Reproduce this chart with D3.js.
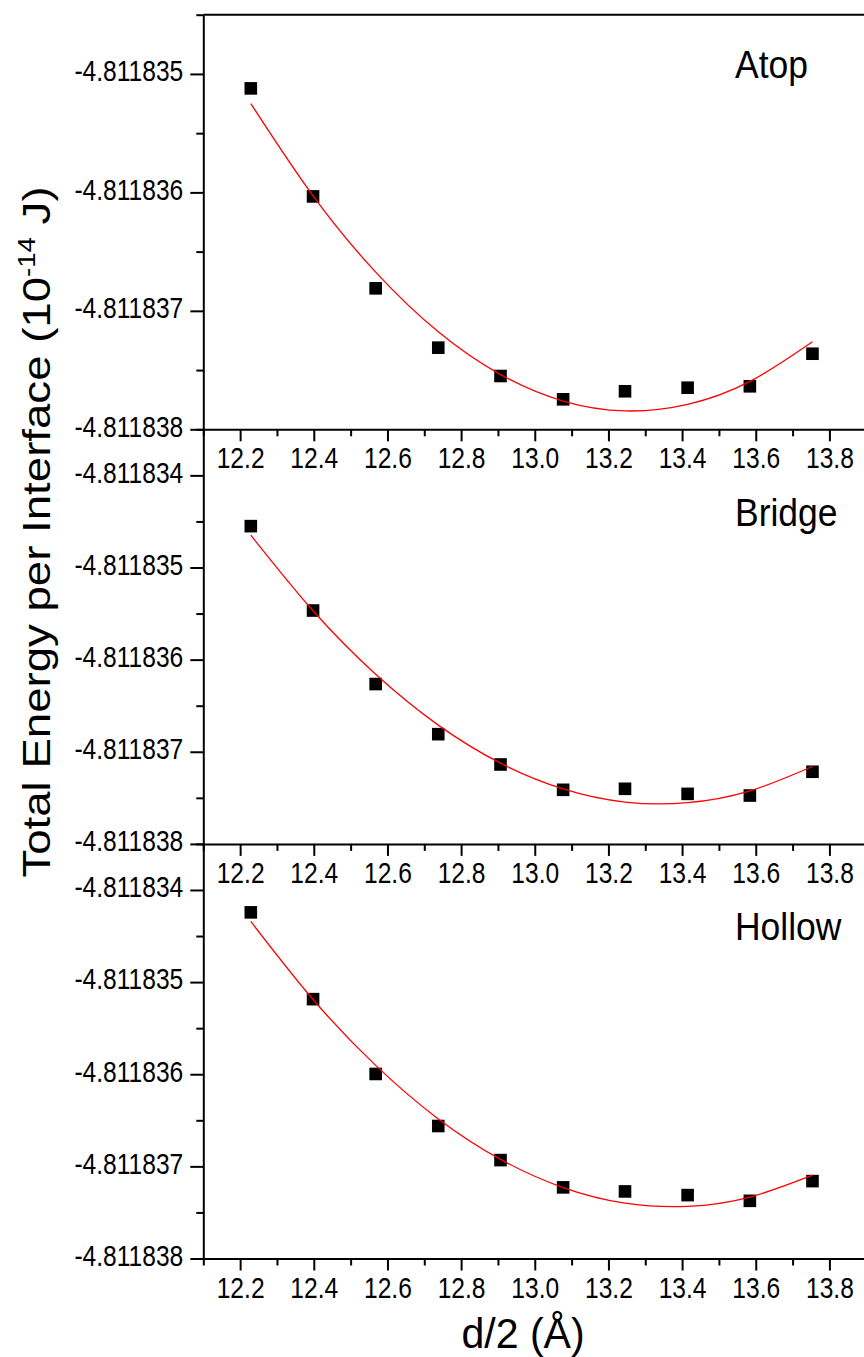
<!DOCTYPE html>
<html>
<head>
<meta charset="utf-8">
<script src="https://cdn.jsdelivr.net/npm/d3@7"></script>
<style>
  html, body { margin: 0; padding: 0; background: #fff; }
  svg { display: block; font-family: "Liberation Sans", Arial, sans-serif; }
</style>
</head>
<body>
<div id="chart"></div>
<script>
// d/2 values (Å), shared by the three panels
const dHalf = [12.229, 12.398, 12.568, 12.738, 12.907, 13.077, 13.245, 13.415, 13.584, 13.754];

// total energy per interface (10^-14 J)
const atopE   = [-4.811835122, -4.811836034, -4.81183681, -4.811837311, -4.81183755, -4.811837747, -4.811837679, -4.811837649, -4.811837637, -4.811837362];
const bridgeE = [-4.811834551, -4.811835467, -4.811836265, -4.811836809, -4.811837138, -4.811837413, -4.811837402, -4.811837457, -4.811837475, -4.811837217];
const hollowE = [-4.811834243, -4.811835185, -4.811835997, -4.811836562, -4.811836932, -4.811837228, -4.811837272, -4.811837312, -4.811837374, -4.81183716];

// red fit curves, read at the same d/2 values
const atopFit   = [-4.811835251, -4.81183603, -4.811836673, -4.811837177, -4.811837538, -4.811837762, -4.811837845, -4.81183779, -4.811837596, -4.811837261];
const bridgeFit = [-4.811834649, -4.81183547, -4.811836159, -4.811836711, -4.811837124, -4.811837403, -4.811837546, -4.811837553, -4.811837425, -4.81183716];
const hollowFit = [-4.811834342, -4.811835189, -4.811835904, -4.811836485, -4.811836924, -4.81183723, -4.811837399, -4.811837434, -4.811837333, -4.811837095];

const panelNames = ["Atop", "Bridge", "Hollow"];

// ticks
const xTicks = [12.2, 12.4, 12.6, 12.8, 13.0, 13.2, 13.4, 13.6, 13.8];
const xMinor = [12.1, 12.3, 12.5, 12.7, 12.9, 13.1, 13.3, 13.5, 13.7, 13.9];
const yTicksTop = [-4.811838, -4.811837, -4.811836, -4.811835];
const yTicksLow = [-4.811838, -4.811837, -4.811836, -4.811835, -4.811834];
const yMinorTop = [-4.8118375, -4.8118365, -4.8118355, -4.8118345];
const yMinorLow = [-4.8118375, -4.8118365, -4.8118355, -4.8118345, -4.8118335];

const width = 864, height = 1357;
const left = 203.3;
const top0 = 14.7;
const panelH = 414.6;

const svg = d3.select("#chart").append("svg")
    .attr("width", width)
    .attr("height", height)
    .attr("viewBox", `0 0 ${width} ${height}`);

const x = d3.scaleLinear().domain([12.1, 13.9]).range([left, left + 1.8 * 368.3]);

const panels = [
    { name: panelNames[0], e: atopE, fit: atopFit, dom: [-4.811838, -4.8118345], ticks: yTicksTop, minor: yMinorTop, labelY: 63.6 },
    { name: panelNames[1], e: bridgeE, fit: bridgeFit, dom: [-4.811838, -4.8118335], ticks: yTicksLow, minor: yMinorLow, labelY: 96.7 },
    { name: panelNames[2], e: hollowE, fit: hollowFit, dom: [-4.811838, -4.8118335], ticks: yTicksLow, minor: yMinorLow, labelY: 96.3 }
];

const tickFont = 24.6, tickStretch = 1.18;

panels.forEach((p, i) => {
    const pTop = top0 + i * panelH;
    const pBot = pTop + panelH;
    const y = d3.scaleLinear().domain(p.dom).range([pBot, pTop]);
    const g = svg.append("g");

    // top frame line only on the first panel
    if (i === 0) {
        g.append("line")
            .attr("x1", left).attr("x2", width + 5)
            .attr("y1", pTop).attr("y2", pTop)
            .attr("stroke", "#000").attr("stroke-width", 2);
    }

    // y axis: minor then major
    g.append("g")
        .attr("transform", `translate(${left},0)`)
        .call(d3.axisLeft(y).tickValues(p.minor).tickSize(7).tickFormat(""))
        .call(a => a.select(".domain").remove())
        .call(a => a.selectAll("line").attr("stroke-width", 2));

    const yAxis = g.append("g")
        .attr("transform", `translate(${left},0)`)
        .call(d3.axisLeft(y).tickValues(p.ticks).tickSize(13).tickSizeOuter(0)
            .tickFormat(d => d.toFixed(6)));
    yAxis.select(".domain").attr("stroke-width", 2);
    yAxis.selectAll("line").attr("stroke-width", 2);
    yAxis.selectAll("text")
        .attr("x", 0).attr("dy", null).attr("y", 0)
        .attr("transform", `translate(-20,6.8) scale(1,${tickStretch})`)
        .attr("font-size", tickFont)
        .attr("font-family", "Liberation Sans, Arial, sans-serif")
        .attr("fill", "#000");

    // x axis at the bottom of the panel
    g.append("g")
        .attr("transform", `translate(0,${pBot})`)
        .call(d3.axisBottom(x).tickValues(xMinor).tickSize(7).tickFormat(""))
        .call(a => a.select(".domain").remove())
        .call(a => a.selectAll("line").attr("stroke-width", 2));

    const xAxis = g.append("g")
        .attr("transform", `translate(0,${pBot})`)
        .call(d3.axisBottom(x).tickValues(xTicks).tickSize(12).tickSizeOuter(0)
            .tickFormat(d3.format(".1f")));
    xAxis.select(".domain").attr("stroke-width", 2);
    xAxis.selectAll("line").attr("stroke-width", 2);
    xAxis.selectAll("text")
        .attr("y", 0).attr("dy", null)
        .attr("transform", `translate(0,39) scale(1,${tickStretch})`)
        .attr("font-size", tickFont)
        .attr("font-family", "Liberation Sans, Arial, sans-serif")
        .attr("fill", "#000");

    // data squares
    const sq = 12.6;
    g.selectAll(".pt")
        .data(dHalf.map((d, k) => [d, p.e[k]]))
        .join("rect")
        .attr("class", "pt")
        .attr("x", d => x(d[0]) - sq / 2)
        .attr("y", d => y(d[1]) - sq / 2)
        .attr("width", sq)
        .attr("height", sq)
        .attr("fill", "#000");

    // fitted curve
    const line = d3.line()
        .x(d => x(d[0]))
        .y(d => y(d[1]))
        .curve(d3.curveNatural);
    g.append("path")
        .attr("d", line(dHalf.map((d, k) => [d, p.fit[k]])))
        .attr("fill", "none")
        .attr("stroke", "#ff0000")
        .attr("stroke-width", 1.3);

    // panel label
    g.append("text")
        .attr("transform", `translate(735,${pTop + p.labelY}) scale(1,1.1)`)
        .attr("font-size", 35.5)
        .attr("fill", "#000")
        .text(p.name);
});

// axis titles
const yTitle = svg.append("text")
    .attr("transform", "translate(50,532) rotate(-90) scale(1.2,1)")
    .attr("text-anchor", "middle")
    .attr("font-size", 38)
    .attr("fill", "#000");
yTitle.append("tspan").text("Total Energy per Interface (10");
yTitle.append("tspan").attr("font-size", 23).attr("dy", -15).text("-14");
yTitle.append("tspan").attr("dy", 15).text(" J)");

svg.append("text")
    .attr("transform", "translate(523,1348) scale(1.08,1.1)")
    .attr("text-anchor", "middle")
    .attr("font-size", 38)
    .attr("fill", "#000")
    .text("d/2 (Å)");
</script>
</body>
</html>
